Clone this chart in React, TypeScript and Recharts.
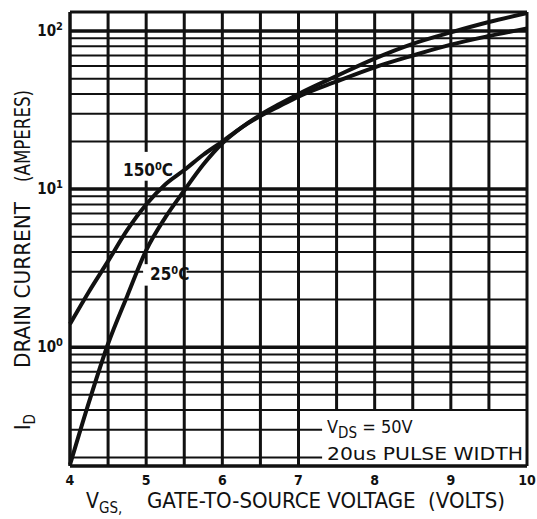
import { LineChart, Line, XAxis, YAxis, ReferenceLine } from "recharts";

// transfer characteristic
const gateVolts = [4, 4.25, 4.5, 4.75, 5, 5.25, 5.5, 5.75, 6, 6.25, 6.5, 6.75, 7, 7.5, 8, 8.5, 9, 9.5, 10];
const drain25C = [0.18, 0.45, 1.05, 2.1, 4.1, 6.6, 9.8, 14.3, 19.5, 24.5, 29.5, 34.5, 40, 52, 67, 83, 98, 114, 130];
const drain150C = [1.4, 2.25, 3.5, 5.5, 8.0, 10.7, 13.2, 16.5, 20, 24.5, 29, 33.5, 38.5, 48, 59, 70, 82, 93, 104];

const xTicks = [4, 5, 6, 7, 8, 9, 10];
const yTicks = [1, 10, 100];
const gridVolts = [4.5, 5, 5.5, 6, 6.5, 7, 7.5, 8, 8.5, 9, 9.5];
const gridAmps = [
  0.2, 0.3, 0.4, 0.5, 0.6, 0.7, 0.8, 0.9,
  1, 2, 3, 4, 5, 6, 7, 8, 9,
  10, 20, 30, 40, 50, 60, 70, 80, 90,
  100,
];

const Y_MIN = 0.177;
const Y_MAX = 132;
const FONT = "'Liberation Sans Narrow', 'DejaVu Sans Condensed', 'Arial Narrow', sans-serif";
const INK = "#111";

const data = gateVolts.map((v, i) => ({ v, t25: drain25C[i], t150: drain150C[i] }));

// gaps where labels / the note box break the grid
function vSegments(v: number): [number, number][] {
  if (v === 5) return [[Y_MIN, 2.45], [3.35, 11.3], [17.2, Y_MAX]];
  if (v > 7) return [[0.4, Y_MAX]];
  return [[Y_MIN, Y_MAX]];
}

function hSegments(a: number): [number, number][] {
  if (a === 0.2 || a === 0.3) return [[4, 7.31]];
  if (a === 3) return [[4, 4.96], [5.53, 10]];
  return [[4, 10]];
}

const isDecade = (a: number) => a === 1 || a === 10 || a === 100;

function XTick(props: any) {
  const { x, y, payload } = props;
  return (
    <text x={x} y={y} dy={19} textAnchor="middle" fontFamily={FONT} fontWeight="bold" fontSize={14} fill={INK}>
      {payload.value}
    </text>
  );
}

function YTick(props: any) {
  const { x, y, payload } = props;
  const exp = Math.round(Math.log10(payload.value));
  return (
    <text x={x - 7} y={y} dy={5} textAnchor="end" fontFamily={FONT} fontWeight="bold" fontSize={15} fill={INK}>
      10
      <tspan dy={-6} fontSize={11}>{exp}</tspan>
    </text>
  );
}

export default function App() {
  return (
    <div style={{ position: "absolute", left: 0, top: 0, width: 537, height: 519, background: "#fff" }}>
      <LineChart width={537} height={519} data={data} margin={{ top: 12, right: 10, bottom: 0, left: 8 }}>
        <XAxis
          dataKey="v"
          type="number"
          domain={[4, 10]}
          ticks={xTicks}
          height={53}
          axisLine={false}
          tickLine={false}
          tickSize={0}
          tickMargin={0}
          tick={<XTick />}
          interval={0}
        />
        <YAxis
          scale="log"
          type="number"
          domain={[Y_MIN, Y_MAX]}
          allowDataOverflow
          ticks={yTicks}
          width={62}
          axisLine={false}
          tickLine={false}
          tickSize={0}
          tickMargin={0}
          tick={<YTick />}
          interval={0}
        />

        {gridAmps.flatMap((a) =>
          hSegments(a).map(([x1, x2], k) => (
            <ReferenceLine
              key={`h${a}-${k}`}
              segment={[{ x: x1, y: a }, { x: x2, y: a }]}
              stroke={INK}
              strokeWidth={isDecade(a) ? 3.5 : 2}
            />
          ))
        )}
        {gridVolts.flatMap((v) =>
          vSegments(v).map(([y1, y2], k) => (
            <ReferenceLine
              key={`v${v}-${k}`}
              segment={[{ x: v, y: y1 }, { x: v, y: y2 }]}
              stroke={INK}
              strokeWidth={3}
            />
          ))
        )}

        {/* frame */}
        <ReferenceLine x={4} stroke={INK} strokeWidth={3.5} />
        <ReferenceLine x={10} stroke={INK} strokeWidth={3} />
        <ReferenceLine y={Y_MAX} stroke={INK} strokeWidth={3} />
        <ReferenceLine y={Y_MIN} stroke={INK} strokeWidth={3.5} />

        <Line type="monotone" dataKey="t150" stroke={INK} strokeWidth={4} dot={false} isAnimationActive={false} />
        <Line type="monotone" dataKey="t25" stroke={INK} strokeWidth={4} dot={false} isAnimationActive={false} />

        {/* curve labels */}
        <text x={123} y={176} fontFamily={FONT} fontWeight="bold" fontSize={17} fill={INK}>
          150<tspan dy={-6} fontSize={11}>0</tspan><tspan dy={6}>C</tspan>
        </text>
        <text x={150} y={280} fontFamily={FONT} fontWeight="bold" fontSize={17} fill={INK}>
          25<tspan dy={-6} fontSize={11}>0</tspan><tspan dy={6}>C</tspan>
        </text>

        {/* test conditions */}
        <text x={327} y={433} fontFamily={FONT} fontSize={18} fill={INK} style={{ whiteSpace: "pre" }}>
          V<tspan dy={5} fontSize={15}>DS</tspan><tspan dy={-5}> = 50V</tspan>
        </text>
        <text
          x={327}
          y={460}
          fontFamily={FONT}
          fontSize={18}
          fill={INK}
          textLength={196}
          lengthAdjust="spacingAndGlyphs"
        >
          20us PULSE WIDTH
        </text>

        {/* x title */}
        <text x={86} y={508} fontFamily={FONT} fontSize={21} fill={INK}>
          V<tspan dy={5} fontSize={15}>GS,</tspan>
        </text>
        <text
          x={147}
          y={508}
          fontFamily={FONT}
          fontSize={21}
          fill={INK}
          textLength={358}
          lengthAdjust="spacingAndGlyphs"
          style={{ whiteSpace: "pre" }}
        >
          GATE-TO-SOURCE VOLTAGE  (VOLTS)
        </text>

        {/* y title */}
        <g transform="rotate(-90, 30, 430)">
          <text x={30} y={430} fontFamily={FONT} fontSize={21} fill={INK}>
            I<tspan dy={5} fontSize={15}>D</tspan>
          </text>
        </g>
        <g transform="rotate(-90, 30, 368)">
          <text x={30} y={368} fontFamily={FONT} fontSize={21} fill={INK} textLength={166} lengthAdjust="spacingAndGlyphs">
            DRAIN CURRENT
          </text>
        </g>
        <g transform="rotate(-90, 30, 182)">
          <text x={30} y={182} fontFamily={FONT} fontSize={21} fill={INK} textLength={92} lengthAdjust="spacingAndGlyphs">
            (AMPERES)
          </text>
        </g>
      </LineChart>
    </div>
  );
}
